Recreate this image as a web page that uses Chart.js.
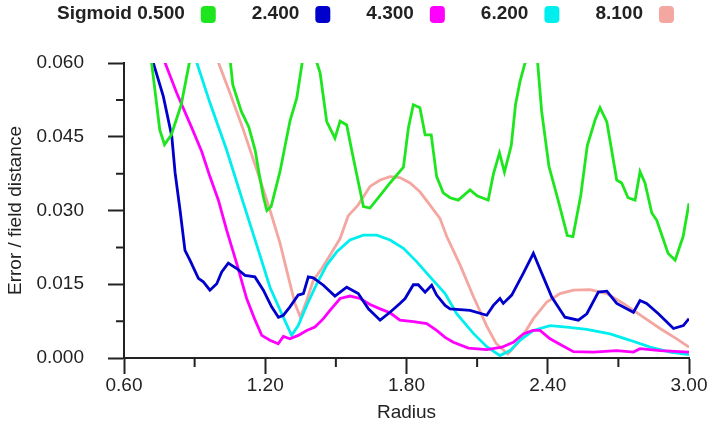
<!DOCTYPE html>
<html>
<head>
<meta charset="utf-8">
<script src="https://cdn.jsdelivr.net/npm/chart.js@4.4.1/dist/chart.umd.min.js"></script>
<style>
  html, body { margin: 0; padding: 0; background: #fff; }
  canvas { display: block; }
</style>
</head>
<body>
<canvas id="chart" width="713" height="428"></canvas>
<script>
// legend labels and colours
const seriesLabels = ["Sigmoid 0.500", "2.400", "4.300", "6.200", "8.100"];
const seriesColors = ["#1ee61e", "#0000cc", "#ff00ff", "#00eeee", "#f4a6a0"];

// [radius, error / field distance]
const sigmoid0500 = [
  [0.70, 0.069], [0.716, 0.0605], [0.752, 0.0464], [0.772, 0.0434], [0.801, 0.0454], [0.843, 0.0515],
  [0.879, 0.0604], [0.96, 0.072], [1.052, 0.0601], [1.062, 0.0556], [1.098, 0.0502], [1.13, 0.0470],
  [1.157, 0.0423], [1.175, 0.0372], [1.192, 0.0328], [1.207, 0.0300], [1.225, 0.0308], [1.263, 0.0380],
  [1.305, 0.0482], [1.334, 0.0529], [1.357, 0.0601], [1.39, 0.064], [1.419, 0.0601], [1.433, 0.0580],
  [1.461, 0.0481], [1.496, 0.0447], [1.518, 0.0482], [1.546, 0.0474], [1.567, 0.0423], [1.603, 0.0340],
  [1.617, 0.0308], [1.645, 0.0305], [1.700, 0.0338], [1.730, 0.0356], [1.787, 0.0388], [1.808, 0.0468],
  [1.829, 0.0515], [1.857, 0.0509], [1.879, 0.0454], [1.905, 0.0454], [1.928, 0.0369], [1.956, 0.0336],
  [1.985, 0.0326], [2.020, 0.0321], [2.070, 0.0342], [2.100, 0.0330], [2.147, 0.0321], [2.169, 0.0374],
  [2.195, 0.0417], [2.216, 0.0378], [2.245, 0.0432], [2.263, 0.0515], [2.282, 0.0562], [2.304, 0.0601],
  [2.33, 0.065], [2.357, 0.0601], [2.374, 0.0502], [2.405, 0.0390], [2.444, 0.0321], [2.483, 0.0249],
  [2.507, 0.0247], [2.540, 0.0330], [2.568, 0.0432], [2.601, 0.0484], [2.622, 0.0509], [2.651, 0.0480],
  [2.693, 0.0362], [2.714, 0.0356], [2.741, 0.0326], [2.771, 0.0321], [2.792, 0.0379], [2.813, 0.0356],
  [2.842, 0.0295], [2.863, 0.0280], [2.911, 0.0213], [2.941, 0.0199], [2.975, 0.0247], [3.00, 0.0315]
];
const sigmoid2400 = [
  [0.70, 0.064], [0.724, 0.0601], [0.767, 0.0532], [0.803, 0.0451], [0.817, 0.0377], [0.838, 0.0301],
  [0.859, 0.0219], [0.880, 0.0199], [0.916, 0.0162], [0.937, 0.0155], [0.965, 0.0138], [0.994, 0.0151],
  [1.015, 0.0175], [1.043, 0.0193], [1.079, 0.0182], [1.114, 0.0168], [1.156, 0.0165], [1.192, 0.0138],
  [1.227, 0.0104], [1.256, 0.0083], [1.277, 0.0087], [1.305, 0.0104], [1.340, 0.0128], [1.362, 0.0131],
  [1.383, 0.0165], [1.404, 0.0163], [1.447, 0.0148], [1.496, 0.0126], [1.546, 0.0144], [1.595, 0.0131],
  [1.638, 0.0100], [1.688, 0.0077], [1.730, 0.0093], [1.772, 0.0111], [1.794, 0.0121], [1.829, 0.0149],
  [1.850, 0.0149], [1.879, 0.0134], [1.907, 0.0148], [1.928, 0.0128], [1.964, 0.0107], [1.985, 0.0100],
  [2.070, 0.0097], [2.141, 0.0087], [2.169, 0.0107], [2.197, 0.0121], [2.211, 0.0111], [2.247, 0.0128],
  [2.296, 0.0172], [2.339, 0.0213], [2.381, 0.0165], [2.417, 0.0124], [2.473, 0.0083], [2.530, 0.0077],
  [2.566, 0.0090], [2.615, 0.0134], [2.651, 0.0136], [2.693, 0.0111], [2.764, 0.0093], [2.792, 0.0117],
  [2.820, 0.0111], [2.870, 0.0090], [2.934, 0.0060], [2.976, 0.0066], [3.00, 0.0080]
];
const sigmoid4300 = [
  [0.70, 0.069], [0.774, 0.0601], [0.824, 0.0539], [0.888, 0.0468], [0.930, 0.0420], [0.965, 0.0369],
  [1.001, 0.0321], [1.036, 0.0260], [1.079, 0.0192], [1.121, 0.0121], [1.157, 0.0077], [1.185, 0.0046],
  [1.220, 0.0036], [1.255, 0.0029], [1.277, 0.0044], [1.305, 0.0039], [1.340, 0.0046], [1.376, 0.0056],
  [1.411, 0.0063], [1.447, 0.0080], [1.475, 0.0097], [1.518, 0.0121], [1.560, 0.0126], [1.603, 0.0121],
  [1.645, 0.0109], [1.688, 0.0100], [1.730, 0.0092], [1.772, 0.0077], [1.829, 0.0074], [1.886, 0.0070],
  [1.928, 0.0056], [1.964, 0.0042], [1.999, 0.0032], [2.063, 0.0020], [2.141, 0.0017], [2.205, 0.0022],
  [2.254, 0.0032], [2.296, 0.0049], [2.337, 0.0056], [2.367, 0.0056], [2.410, 0.0039], [2.459, 0.0026],
  [2.509, 0.0013], [2.594, 0.0012], [2.693, 0.0015], [2.764, 0.0012], [2.792, 0.0019], [2.877, 0.0015],
  [3.00, 0.0012]
];
const sigmoid6200 = [
  [0.80, 0.076], [0.909, 0.0601], [0.965, 0.0519], [1.036, 0.0423], [1.107, 0.0315], [1.171, 0.0219],
  [1.220, 0.0144], [1.270, 0.0090], [1.312, 0.0046], [1.340, 0.0066], [1.376, 0.0107], [1.419, 0.0151],
  [1.461, 0.0189], [1.504, 0.0216], [1.560, 0.0240], [1.617, 0.0250], [1.674, 0.0250], [1.730, 0.0240],
  [1.787, 0.0223], [1.843, 0.0196], [1.900, 0.0165], [1.964, 0.0131], [2.013, 0.0090], [2.084, 0.0050],
  [2.141, 0.0023], [2.197, 0.0005], [2.240, 0.0015], [2.282, 0.0036], [2.339, 0.0056], [2.410, 0.0066],
  [2.481, 0.0063], [2.566, 0.0058], [2.665, 0.0049], [2.750, 0.0036], [2.835, 0.0022], [2.920, 0.0012],
  [3.00, 0.0007]
];
const sigmoid8100 = [
  [0.90, 0.073], [1.001, 0.0601], [1.050, 0.0539], [1.107, 0.0464], [1.164, 0.0383], [1.220, 0.0301],
  [1.263, 0.0233], [1.298, 0.0165], [1.326, 0.0111], [1.349, 0.0083], [1.376, 0.0117], [1.404, 0.0158],
  [1.440, 0.0182], [1.475, 0.0209], [1.518, 0.0243], [1.552, 0.0289], [1.594, 0.0311], [1.645, 0.0349],
  [1.688, 0.0362], [1.730, 0.0369], [1.772, 0.0367], [1.815, 0.0356], [1.857, 0.0338], [1.900, 0.0311],
  [1.942, 0.0284], [1.971, 0.0247], [2.027, 0.0190], [2.084, 0.0125], [2.141, 0.0065], [2.180, 0.0030],
  [2.230, 0.0008], [2.282, 0.0036], [2.339, 0.0080], [2.396, 0.0114], [2.452, 0.0131], [2.509, 0.0138],
  [2.580, 0.0139], [2.651, 0.0131], [2.721, 0.0111], [2.806, 0.0083], [2.877, 0.0060], [2.948, 0.0039],
  [3.00, 0.0022]
];
const allSeries = [sigmoid0500, sigmoid2400, sigmoid4300, sigmoid6200, sigmoid8100];

// axis ranges, major ticks every other step
const radiusMin = 0.6, radiusMax = 3.0, radiusStep = 0.3;
const errorMin = 0, errorMax = 0.06, errorStep = 0.0075;

const textColor = "#222";
const fontFamily = '"Liberation Sans", Arial, sans-serif';

// legend with the colour box after the text, as in the original
const boxAfterLegend = {
  id: "boxAfterLegend",
  afterDraw(chart) {
    const c = chart.ctx;
    c.save();
    c.font = "bold 19px " + fontFamily;
    c.textBaseline = "middle";
    let x = 57;
    chart.data.datasets.forEach(ds => {
      c.fillStyle = textColor;
      c.fillText(ds.label, x, 14);
      x += c.measureText(ds.label).width + 16;
      c.fillStyle = ds.borderColor;
      c.beginPath();
      c.roundRect(x, 6, 15, 17, 4);
      c.fill();
      x += 15 + 36;
    });
    c.restore();
  }
};

// short ticks for the odd (minor) steps
const minorTicks = {
  id: "minorTicks",
  afterDraw(chart) {
    const c = chart.ctx;
    const xs = chart.scales.x, ys = chart.scales.y;
    c.save();
    c.strokeStyle = textColor;
    c.lineWidth = 2;
    c.beginPath();
    xs.ticks.forEach((t, i) => {
      if (i % 2 === 1) {
        const p = xs.getPixelForTick(i);
        c.moveTo(p, xs.top);
        c.lineTo(p, xs.top + 9);
      }
    });
    ys.ticks.forEach((t, i) => {
      if (i % 2 === 1) {
        const p = ys.getPixelForTick(i);
        c.moveTo(ys.right, p);
        c.lineTo(ys.right - 8, p);
      }
    });
    c.stroke();
    c.restore();
  }
};

const majorColor = ctx => (ctx.index % 2 === 0 ? textColor : "rgba(0,0,0,0)");

new Chart(document.getElementById("chart"), {
  type: "line",
  data: {
    datasets: allSeries.map((s, i) => ({
      label: seriesLabels[i],
      data: s.map(p => ({ x: p[0], y: p[1] })),
      borderColor: seriesColors[i],
      backgroundColor: seriesColors[i],
      borderWidth: 2.8,
      pointRadius: 0,
      tension: 0,
      clip: 0
    }))
  },
  options: {
    responsive: false,
    animation: false,
    devicePixelRatio: 1,
    layout: { padding: { top: 63, right: 24, left: 0, bottom: 0 } },
    plugins: {
      legend: { display: false },
      tooltip: { enabled: false }
    },
    scales: {
      x: {
        type: "linear",
        min: radiusMin,
        max: radiusMax,
        afterFit: s => { s.height = 70; },
        ticks: {
          stepSize: radiusStep,
          autoSkip: false,
          maxRotation: 0,
          padding: 0,
          color: textColor,
          font: { family: fontFamily, size: 19 },
          callback: (v, i) => (i % 2 ? "" : v.toFixed(2))
        },
        grid: { drawOnChartArea: false, tickLength: 16, tickWidth: 2, tickColor: majorColor },
        border: { color: textColor, width: 2 },
        title: {
          display: true,
          text: "Radius",
          color: textColor,
          font: { family: fontFamily, size: 19 },
          padding: { top: 0, bottom: 4 }
        }
      },
      y: {
        min: errorMin,
        max: errorMax,
        afterFit: s => { s.width = 124; },
        ticks: {
          stepSize: errorStep,
          autoSkip: false,
          padding: 24,
          color: textColor,
          font: { family: fontFamily, size: 19 },
          callback: (v, i) => (i % 2 ? "" : v.toFixed(3))
        },
        grid: { drawOnChartArea: false, tickLength: 16, tickWidth: 2, tickColor: majorColor },
        border: { color: textColor, width: 2 },
        title: {
          display: true,
          text: "Error / field distance",
          color: textColor,
          font: { family: fontFamily, size: 19 },
          padding: { top: 4, bottom: 0 }
        }
      }
    }
  },
  plugins: [boxAfterLegend, minorTicks]
});
</script>
</body>
</html>
